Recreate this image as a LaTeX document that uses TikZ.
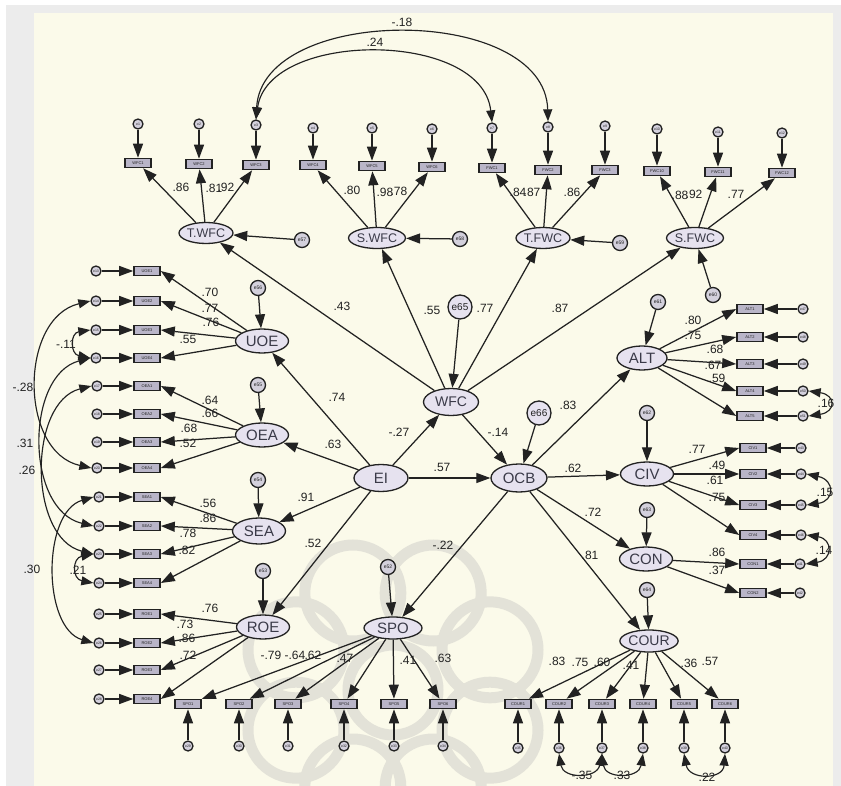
\documentclass[tikz,border=0pt]{standalone}
\usepackage{fontspec}
\setmainfont{Liberation Sans}
\usetikzlibrary{arrows.meta,shapes.geometric,calc}
\definecolor{cream}{HTML}{FBFAEA}
\definecolor{bggray}{HTML}{ECECEC}
\definecolor{latfill}{HTML}{E6E2EF}
\definecolor{obsfill}{HTML}{B9B5C8}
\definecolor{errfill}{HTML}{D3D0DC}
\definecolor{ink}{HTML}{222222}
\definecolor{lattext}{HTML}{3A3A48}
\definecolor{wm}{HTML}{E3E2D8}
\tikzset{
 lat/.style={ellipse,draw=ink,line width=1.3pt,fill=latfill,inner sep=0pt,minimum width=53pt,minimum height=24pt,font=\fontsize{15}{15}\selectfont,text=lattext},
 toplat/.style={lat,minimum width=52pt,minimum height=21pt,font=\fontsize{12.5}{12.5}\selectfont},
 obs/.style={rectangle,draw=ink,line width=1.6pt,fill=obsfill,inner sep=0pt,minimum width=26pt,minimum height=9pt,font=\fontsize{4}{4}\selectfont,text=ink},
 err/.style={circle,draw=ink,line width=1.3pt,fill=errfill,inner sep=0pt,minimum size=10pt,font=\fontsize{3.5}{3.5}\selectfont,text=ink},
 dst/.style={circle,draw=ink,line width=1.3pt,fill=errfill,inner sep=0pt,minimum size=15pt,font=\fontsize{5}{5}\selectfont,text=ink},
 dbig/.style={dst,minimum size=24pt,fill=latfill,font=\fontsize{10}{10}\selectfont},
 pth/.style={draw=ink,line width=1.25pt,-{Triangle[length=14pt,width=10pt]}},
 cov/.style={draw=ink,line width=1.15pt,{Triangle[length=12pt,width=9pt]}-{Triangle[length=12pt,width=9pt]}},
 lbl/.style={font=\fontsize{12}{12}\selectfont,text=ink,inner sep=0pt},
}
\begin{document}
\begin{tikzpicture}[x=1pt,y=-1pt]
\useasboundingbox (0,0) rectangle (841,786);
% background
\fill[white] (0,0) rectangle (841,786);
\fill[bggray] (6,5) rectangle (841,786);
\fill[cream] (34,13) rectangle (833,786);
% watermark
\begin{scope}
\clip (34,13) rectangle (833,786);
\foreach \a in {22.5,67.5,...,337.5}
  \draw[wm,line width=11pt] ($(393,690)+(\a:105)$) circle (48);
\draw[wm,line width=11pt] (393,690) circle (45);
\end{scope}

% ---------- latent variables ----------
\node[toplat] (TW) at (206,233) {T.WFC};
\node[toplat] (SW) at (377,238) {S.WFC};
\node[toplat] (TF) at (543,238) {T.FWC};
\node[toplat] (SF) at (695,238) {S.FWC};
\node[lat,minimum width=55pt,minimum height=27pt,font=\fontsize{14}{14}\selectfont] (WFC) at (451,402) {WFC};
\node[lat,minimum width=54pt,minimum height=27pt,font=\fontsize{15}{15}\selectfont] (EI) at (381,478) {EI};
\node[lat,minimum width=56pt,minimum height=28pt,font=\fontsize{15}{15}\selectfont] (OCB) at (519,478) {OCB};
\node[lat] (UOE) at (262,341) {UOE};
\node[lat] (OEA) at (262,435) {OEA};
\node[lat,minimum height=26pt] (SEA) at (259,531) {SEA};
\node[lat] (ROE) at (263,627) {ROE};
\node[lat,minimum width=58pt,minimum height=22pt] (SPO) at (393,628) {SPO};
\node[lat,minimum width=54pt,minimum height=22pt,font=\fontsize{14}{14}\selectfont] (COUR) at (649,641) {COUR};
\node[lat,minimum width=50pt] (ALT) at (642,358) {ALT};
\node[lat] (CIV) at (647,474) {CIV};
\node[lat] (CON) at (646,559) {CON};

% ---------- disturbances ----------
\node[dst] (dTW) at (302,240) {e57};
\node[dst] (dSW) at (460,239) {e58};
\node[dst] (dTF) at (620,243) {e59};
\node[dst] (dSF) at (713,295) {e60};
\node[dbig] (e65) at (460,307) {e65};
\node[dbig] (e66) at (539,413) {e66};
\node[dst] (dUOE) at (258,288) {e56};
\node[dst] (dOEA) at (258,385) {e55};
\node[dst] (dSEA) at (258,480) {e54};
\node[dst] (dROE) at (263,571) {e53};
\node[dst] (dSPO) at (388,567) {e52};
\node[dst] (dCOUR) at (647,590) {e64};
\node[dst] (dCON) at (647,510) {e63};
\node[dst] (dCIV) at (647,413) {e62};
\node[dst] (dALT) at (658,302) {e61};

% ---------- indicators and errors ----------
\foreach \i/\x/\y/\ey in {1/138/163/124,2/199/164/124,3/256/165/125}{
  \node[obs] (tw\i) at (\x,\y) {WFC\i};
  \node[err] (etw\i) at (\x,\ey) {e\i};}
\foreach \i/\x/\y/\ey/\n in {1/313/165/128/4,2/372/166/128/5,3/432/167/129/6}{
  \node[obs] (sw\i) at (\x,\y) {WFC\n};
  \node[err] (esw\i) at (\x,\ey) {e\n};}
\foreach \i/\x/\y/\ey/\n in {1/492/168/128/7,2/548/170/127/8,3/605/170/126/9}{
  \node[obs] (tf\i) at (\x,\y) {FWC\i};
  \node[err] (etf\i) at (\x,\ey) {e\n};}
\foreach \i/\x/\y/\ey/\n in {1/657/171/129/10,2/718/172/132/11,3/782/173/133/12}{
  \node[obs] (sf\i) at (\x,\y) {FWC\n};
  \node[err] (esf\i) at (\x,\ey) {e\n};}
\foreach \i/\y/\n in {1/271/13,2/301/14,3/330/15,4/358/16}{
  \node[obs] (u\i) at (147,\y) {UOE\i};
  \node[err] (eu\i) at (96,\y) {e\n};}
\foreach \i/\y/\n in {1/386/17,2/414/18,3/442/19,4/468/20}{
  \node[obs] (o\i) at (147,\y) {OEA\i};
  \node[err] (eo\i) at (97,\y) {e\n};}
\foreach \i/\y/\n in {1/497/21,2/526/22,3/554/23,4/583/24}{
  \node[obs] (s\i) at (147,\y) {SEA\i};
  \node[err] (es\i) at (99,\y) {e\n};}
\foreach \i/\y/\n in {1/614/25,2/643/26,3/670/27,4/699/28}{
  \node[obs] (r\i) at (147,\y) {ROE\i};
  \node[err] (er\i) at (99,\y) {e\n};}
\foreach \i/\x/\n in {1/188/29,2/239/30,3/288/31,4/344/32,5/394/33,6/443/34}{
  \node[obs] (p\i) at (\x,704) {SPO\i};
  \node[err] (ep\i) at (\x,746) {e\n};}
\foreach \i/\x/\n in {1/518/35,2/559/36,3/602/37,4/643/38,5/684/39,6/725/40}{
  \node[obs] (c\i) at (\x,704) {COUR\i};
  \node[err] (ec\i) at (\x,748) {e\n};}
\foreach \i/\y/\n in {1/564/41,2/593/42}{
  \node[obs] (n\i) at (753,\y) {CON\i};
  \node[err] (en\i) at (800,\y) {e\n};}
\foreach \i/\y/\n in {1/448/43,2/474/44,3/505/45,4/535/46}{
  \node[obs] (v\i) at (753,\y) {CIV\i};
  \node[err] (ev\i) at (801,\y) {e\n};}
\foreach \i/\y/\n in {1/309/47,2/337/48,3/364/49,4/391/50,5/416/51}{
  \node[obs] (a\i) at (750,\y) {ALT\i};
  \node[err] (ea\i) at (803,\y) {e\n};}

% ---------- measurement paths ----------
\foreach \i in {1,2,3}{
  \draw[pth] (TW) -- (tw\i); \draw[pth] (etw\i) -- (tw\i);
  \draw[pth] (SW) -- (sw\i); \draw[pth] (esw\i) -- (sw\i);
  \draw[pth] (TF) -- (tf\i); \draw[pth] (etf\i) -- (tf\i);
  \draw[pth] (SF) -- (sf\i); \draw[pth] (esf\i) -- (sf\i);}
\foreach \i in {1,2,3,4}{
  \draw[pth] (UOE) -- (u\i.east); \draw[pth] (eu\i) -- (u\i);
  \draw[pth] (OEA) -- (o\i.east); \draw[pth] (eo\i) -- (o\i);
  \draw[pth] (SEA) -- (s\i.east); \draw[pth] (es\i) -- (s\i);
  \draw[pth] (ROE) -- (r\i.east); \draw[pth] (er\i) -- (r\i);
  \draw[pth] (CIV) -- (v\i.west); \draw[pth] (ev\i) -- (v\i);}
\foreach \i in {1,...,6}{
  \draw[pth] (SPO) -- (p\i); \draw[pth] (ep\i) -- (p\i);
  \draw[pth] (COUR) -- (c\i); \draw[pth] (ec\i) -- (c\i);}
\foreach \i in {1,2}{
  \draw[pth] (CON) -- (n\i.west); \draw[pth] (en\i) -- (n\i);}
\foreach \i in {1,...,5}{
  \draw[pth] (ALT) -- (a\i.west); \draw[pth] (ea\i) -- (a\i);}

% ---------- disturbance paths ----------
\draw[pth] (dTW) -- (TW);
\draw[pth] (dSW) -- (SW);
\draw[pth] (dTF) -- (TF);
\draw[pth] (dSF) -- (SF);
\draw[pth] (e65) -- (WFC);
\draw[pth] (e66) -- (OCB);
\draw[pth] (dUOE) -- (UOE);
\draw[pth] (dOEA) -- (OEA);
\draw[pth] (dSEA) -- (SEA);
\draw[pth] (dROE) -- (ROE);
\draw[pth] (dSPO) -- (SPO);
\draw[pth] (dCOUR) -- (COUR);
\draw[pth] (dCON) -- (CON);
\draw[pth] (dCIV) -- (CIV);
\draw[pth] (dALT) -- (ALT);

% ---------- structural paths ----------
\draw[pth] (WFC) -- (TW);
\draw[pth] (WFC) -- (SW);
\draw[pth] (WFC) -- (TF);
\draw[pth] (WFC) -- (SF);
\draw[pth] (EI) -- (WFC);
\draw[pth] (EI) -- (OCB);
\draw[pth] (WFC) -- (OCB);
\draw[pth] (EI) -- (UOE);
\draw[pth] (EI) -- (OEA);
\draw[pth] (EI) -- (SEA);
\draw[pth] (EI) -- (ROE);
\draw[pth] (OCB) -- (SPO);
\draw[pth] (OCB) -- (ALT);
\draw[pth] (OCB) -- (CIV);
\draw[pth] (OCB) -- (CON);
\draw[pth] (OCB) -- (COUR);

% ---------- covariances ----------
\draw[cov] (etw3.north) .. controls (268,30) and (482,30) .. (etf1.north);
\draw[cov] (etw3.north) .. controls (262,4) and (545,4) .. (etf2.north);
\draw[cov] (eu2.west) .. controls (19,318) and (19,452) .. (eo4.west);
\draw[cov] (eu4.west) .. controls (25,375) and (25,510) .. (es2.west);
\draw[cov] (eo1.west) .. controls (28,402) and (28,538) .. (es3.west);
\draw[cov] (es1.west) .. controls (42,512) and (42,628) .. (er2.west);
\draw[cov] (eu3.west) .. controls (70,333) and (70,354) .. (eu4.west);
\draw[cov] (es3.west) .. controls (72,558) and (72,579) .. (es4.west);
\draw[cov] (ea4.east) .. controls (836,395) and (836,412) .. (ea5.east);
\draw[cov] (ev2.east) .. controls (835,480) and (835,501) .. (ev3.east);
\draw[cov] (ev4.east) .. controls (833,539) and (833,560) .. (en1.east);
\draw[cov] (ec2.south) .. controls (563,779) and (597,779) .. (ec3.south);
\draw[cov] (ec3.south) .. controls (605,779) and (639,779) .. (ec4.south);
\draw[cov] (ec5.south) .. controls (689,780) and (723,780) .. (ec6.south);

% ---------- labels ----------
\node[lbl] (L1) at (181,187) {.86};
\node[lbl] (L2) at (214,188) {.81};
\node[lbl] (L3) at (226,187) {.92};
\node[lbl] (L4) at (352,190) {.80};
\node[lbl] (L5) at (385,192) {.98};
\node[lbl] (L6) at (399,191) {.78};
\node[lbl] (L7) at (518,192) {.84};
\node[lbl] (L8) at (532,192) {.87};
\node[lbl] (L9) at (572,192) {.86};
\node[lbl] (L10) at (680,195) {.88};
\node[lbl] (L11) at (694,194) {.92};
\node[lbl] (L12) at (736,194) {.77};
\node[lbl] (L13) at (402,22) {-.18};
\node[lbl] (L14) at (375,42) {.24};
\node[lbl] (L15) at (342,306) {.43};
\node[lbl] (L16) at (432,310) {.55};
\node[lbl] (L17) at (485,308) {.77};
\node[lbl] (L18) at (560,308) {.87};
\node[lbl] (L19) at (337,397) {.74};
\node[lbl] (L20) at (333,444) {.63};
\node[lbl] (L21) at (399,432) {-.27};
\node[lbl] (L22) at (498,432) {-.14};
\node[lbl] (L23) at (442,467) {.57};
\node[lbl] (L24) at (568,405) {.83};
\node[lbl] (L25) at (573,468) {.62};
\node[lbl] (L26) at (593,512) {.72};
\node[lbl] (L27) at (590,555) {.81};
\node[lbl] (L28) at (306,497) {.91};
\node[lbl] (L29) at (313,543) {.52};
\node[lbl] (L30) at (443,545) {-.22};
\node[lbl] (L31) at (210,292) {.70};
\node[lbl] (L32) at (210,308) {.77};
\node[lbl] (L33) at (211,322) {.76};
\node[lbl] (L34) at (188,339) {.55};
\node[lbl] (L35) at (66,344) {-.11};
\node[lbl] (L36) at (23,387) {-.28};
\node[lbl] (L37) at (210,400) {.64};
\node[lbl] (L38) at (210,413) {.66};
\node[lbl] (L39) at (189,428) {.68};
\node[lbl] (L40) at (188,443) {.52};
\node[lbl] (L41) at (25,443) {.31};
\node[lbl] (L42) at (27,470) {.26};
\node[lbl] (L43) at (208,503) {.56};
\node[lbl] (L44) at (208,518) {.86};
\node[lbl] (L45) at (188,533) {.78};
\node[lbl] (L46) at (187,550) {.82};
\node[lbl] (L47) at (32,569) {.30};
\node[lbl] (L48) at (78,570) {.21};
\node[lbl] (L49) at (210,608) {.76};
\node[lbl] (L50) at (185,624) {.73};
\node[lbl] (L51) at (187,638) {.86};
\node[lbl] (L52) at (188,655) {.72};
\node[lbl] (L53) at (271,655) {-.79};
\node[lbl] (L54) at (295,655) {-.64};
\node[lbl] (L55) at (313,655) {.62};
\node[lbl] (L56) at (345,658) {.47};
\node[lbl] (L57) at (408,660) {.41};
\node[lbl] (L58) at (443,658) {.63};
\node[lbl] (L59) at (557,661) {.83};
\node[lbl] (L60) at (580,662) {.75};
\node[lbl] (L61) at (602,662) {.60};
\node[lbl] (L62) at (631,665) {.41};
\node[lbl] (L63) at (689,663) {.36};
\node[lbl] (L64) at (710,661) {.57};
\node[lbl] (L65) at (582,775) {-.35};
\node[lbl] (L66) at (622,775) {.33};
\node[lbl] (L67) at (707,777) {.22};
\node[lbl] (L68) at (693,320) {.80};
\node[lbl] (L69) at (693,335) {.75};
\node[lbl] (L70) at (715,349) {.68};
\node[lbl] (L71) at (713,365) {.67};
\node[lbl] (L72) at (717,378) {.59};
\node[lbl] (L73) at (697,449) {.77};
\node[lbl] (L74) at (717,465) {.49};
\node[lbl] (L75) at (715,480) {.61};
\node[lbl] (L76) at (717,497) {.75};
\node[lbl] (L77) at (717,552) {.86};
\node[lbl] (L78) at (717,570) {.37};
\node[lbl] (L79) at (826,403) {.16};
\node[lbl] (L80) at (825,492) {.15};
\node[lbl] (L81) at (824,550) {.14};
\end{tikzpicture}
\end{document}
